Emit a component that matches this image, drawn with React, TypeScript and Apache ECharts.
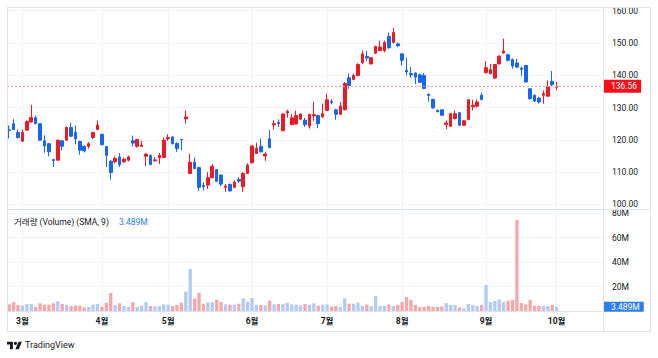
import React, { useEffect, useRef } from 'react';
import * as echarts from 'echarts';

// ---- data ----
const opens = [
  123.1, 125.0, 122.3, 119.6, 123.0, 125.5, 126.8, 125.0, 119.7, 118.8,
  113.9, 113.7, 119.7, 119.9, 123.8, 122.3, 119.5, 118.0, 118.0, 120.7,
  123.2, 121.7, 117.9, 113.4, 113.2, 114.7, 113.2, 113.7, 119.7, 118.0,
  118.0, 114.9, 115.2, 113.5, 114.4, 114.5, 120.3, 120.9, 118.9, 120.1,
  126.5, 109.6, 113.1, 111.4, 105.9, 106.0, 108.3, 110.8, 109.1, 105.3,
  106.2, 105.3, 107.8, 105.5, 109.6, 112.9, 115.8, 118.0, 115.0, 120.3,
  124.6, 125.4, 122.8, 128.3, 124.7, 124.9, 126.4, 126.1, 124.3, 127.4,
  127.5, 127.1, 129.1, 131.9, 129.3, 127.9, 129.3, 139.2, 138.7, 139.9,
  143.9, 145.8, 143.5, 146.8, 147.6, 147.6, 152.0, 150.1, 149.7, 146.6,
  141.5, 140.5, 140.7, 140.1, 139.9, 134.1, 132.5, 129.1, 129.3, 124.8,
  124.2, 126.6, 128.4, 124.5, 126.3, 130.2, 130.4, 133.8, 140.8, 140.5,
  139.1, 143.5, 146.9, 146.3, 144.9, 143.8, 142.2, 143.0, 135.8, 133.8,
  132.9, 133.8, 133.5, 138.1, 136.3,
];
const closes = [
  122.9, 123.2, 120.7, 122.3, 125.7, 126.9, 125.0, 119.9, 118.1, 116.3,
  113.6, 119.9, 118.0, 123.8, 121.1, 120.3, 116.8, 116.6, 118.8, 122.3,
  124.6, 118.5, 115.2, 109.9, 114.3, 112.3, 114.0, 114.7, 119.0, 120.1,
  118.4, 115.6, 112.3, 113.8, 115.2, 119.9, 120.7, 118.8, 117.3, 120.0,
  127.1, 113.1, 111.1, 105.3, 105.5, 108.3, 111.8, 107.2, 106.3, 105.7,
  104.2, 106.9, 107.2, 109.6, 112.2, 118.1, 117.4, 116.3, 115.6, 117.6,
  125.0, 125.0, 128.0, 128.8, 126.8, 127.5, 128.0, 124.7, 127.9, 127.8,
  125.0, 128.1, 132.4, 131.6, 127.9, 130.4, 137.4, 136.8, 139.9, 143.3,
  146.6, 145.3, 145.4, 148.9, 148.7, 150.1, 148.5, 153.2, 149.1, 144.6,
  141.0, 140.1, 139.4, 137.8, 135.9, 133.7, 129.9, 128.7, 127.6, 125.2,
  128.1, 128.1, 124.5, 125.9, 132.4, 130.7, 131.7, 132.5, 142.3, 141.7,
  143.3, 145.9, 147.5, 144.6, 142.8, 142.5, 141.8, 137.9, 132.7, 132.0,
  131.7, 134.3, 136.5, 137.1, 136.56,
];
const lows = [
  120.4, 123.0, 120.4, 119.3, 122.8, 125.4, 124.8, 119.8, 116.0, 114.9,
  111.6, 113.6, 116.8, 119.7, 120.9, 118.6, 115.4, 116.1, 117.3, 120.2,
  123.0, 118.3, 111.6, 107.7, 112.7, 111.6, 112.9, 113.3, 118.0, 117.6,
  117.8, 111.9, 112.2, 113.3, 112.5, 114.5, 119.7, 118.6, 116.3, 116.8,
  125.0, 109.4, 110.9, 104.2, 104.4, 104.8, 108.1, 106.9, 105.7, 103.9,
  104.0, 105.1, 106.7, 103.9, 109.4, 112.7, 115.6, 116.1, 113.5, 117.4,
  123.2, 124.0, 122.8, 126.9, 124.5, 124.8, 126.1, 124.0, 123.5, 125.9,
  123.6, 126.9, 128.9, 131.0, 126.2, 127.7, 129.1, 135.8, 138.4, 139.7,
  143.5, 144.3, 143.3, 146.6, 147.4, 147.1, 148.2, 149.9, 148.7, 143.0,
  139.9, 139.2, 137.2, 137.6, 135.7, 131.8, 129.6, 128.5, 127.4, 123.3,
  124.0, 126.3, 124.3, 124.3, 126.1, 129.1, 130.0, 132.2, 140.5, 140.2,
  138.9, 143.3, 146.6, 144.3, 142.0, 142.3, 139.8, 137.7, 132.5, 131.7,
  131.2, 131.2, 133.3, 136.3, 135.3,
];
const highs = [
  124.5, 126.4, 123.2, 123.2, 126.0, 130.8, 127.5, 125.1, 121.4, 119.0,
  114.1, 120.1, 119.9, 124.2, 125.3, 124.4, 119.7, 118.3, 119.3, 122.5,
  126.0, 121.9, 118.0, 113.7, 114.9, 115.8, 114.5, 115.1, 121.3, 120.3,
  119.7, 115.8, 115.4, 114.7, 116.0, 120.7, 121.7, 121.1, 119.2, 120.3,
  129.1, 115.6, 114.5, 111.7, 106.9, 110.0, 112.5, 111.0, 109.3, 106.3,
  106.5, 107.5, 108.4, 110.0, 112.7, 118.3, 119.1, 120.4, 116.3, 123.0,
  126.1, 126.3, 128.1, 129.3, 128.0, 129.1, 128.2, 126.8, 128.0, 131.8,
  127.7, 131.2, 134.3, 132.6, 129.6, 131.7, 137.9, 140.5, 140.5, 143.7,
  147.6, 147.6, 145.6, 149.1, 150.7, 150.7, 153.2, 154.6, 150.1, 146.8,
  145.4, 142.5, 140.8, 140.5, 140.7, 134.3, 132.7, 129.4, 129.5, 126.0,
  128.3, 129.1, 128.6, 126.1, 132.6, 132.4, 132.5, 134.6, 144.3, 143.5,
  143.5, 146.1, 151.3, 146.6, 145.1, 145.1, 142.7, 143.2, 136.0, 134.0,
  133.3, 135.3, 138.4, 141.3, 137.9,
];
// volume in millions
const volumes = [
  5.4, 7.3, 4.9, 4.4, 5.7, 5.7, 3.5, 6.3, 5.2, 5.2,
  6.3, 7.9, 5.7, 5.2, 4.1, 4.4, 4.4, 3.0, 3.5, 5.4,
  5.7, 3.5, 6.8, 14.7, 4.9, 6.3, 4.1, 3.5, 7.3, 3.3,
  4.4, 7.3, 4.1, 3.8, 4.1, 5.4, 5.2, 4.1, 4.9, 6.8,
  15.8, 34.3, 10.1, 15.0, 6.0, 7.1, 7.3, 9.2, 7.3, 5.4,
  5.2, 5.2, 6.0, 10.3, 7.6, 10.6, 4.9, 4.9, 4.6, 8.4,
  5.4, 5.7, 5.7, 6.8, 5.4, 5.2, 4.6, 5.7, 5.2, 6.3,
  4.4, 5.2, 5.4, 3.6, 4.1, 3.4, 10.3, 6.0, 6.0, 6.8,
  4.1, 5.4, 4.1, 12.2, 4.1, 4.1, 5.4, 4.1, 4.9, 7.3,
  11.4, 9.0, 4.9, 3.3, 3.3, 4.1, 3.5, 3.3, 3.8, 6.5,
  4.9, 4.9, 3.0, 2.2, 5.7, 4.9, 4.1, 4.9, 21.2, 7.3,
  8.2, 9.5, 7.3, 8.4, 9.0, 74.3, 6.5, 5.4, 9.0, 4.4,
  4.4, 4.1, 4.1, 4.9, 3.489,
];
const monthStartIdx = [3, 21, 36, 55, 72, 89, 108, 124];
const monthLabels = ['3월', '4월', '5월', '6월', '7월', '8월', '9월', '10월'];
const volumeLegendTitle = '거래량 (Volume) (SMA, 9)';
const TOTAL_SLOTS = 135; // trading days + empty right margin

// ---- styles ----
const FONT = "Roboto, 'Noto Sans CJK KR', 'Noto Sans', sans-serif";
const RED = '#eb1a23';
const BLUE = '#1766ee';
const LABEL_RED = '#f7101a';
const PRICE_LINE = '#f39ca1';
const VOL_DOWN = '#f7a7aa';
const VOL_UP = '#b1cbf6';
const GRID = '#f0f3fa';
const FRAME = '#e0e3eb';
const TEXT = '#131722';
const TV_PATH =
  'M14 22H7V11H0V4h14v18zM28 22h-8l7.5-18h8L28 22zM24 8a4 4 0 1 1-8 0a4 4 0 1 1 8 0z';

let registered = false;

export default function App() {
  const ref = useRef<HTMLDivElement>(null);

  useEffect(() => {
    if (!registered) {
      echarts.graphic.registerShape('tvlogo', echarts.graphic.extendPath(TV_PATH, {}) as any);
      registered = true;
    }
    const chart = echarts.init(ref.current as HTMLDivElement, undefined, { renderer: 'svg' });

    const cats = Array.from({ length: TOTAL_SLOTS }, (_, i) => String(i));
    const labelByIdx = new Map<number, string>(monthStartIdx.map((i, k) => [i, monthLabels[k]]));
    const candleData = opens.map((o, i) => [o, closes[i], lows[i], highs[i]]);
    const volData = volumes.map((v, i) => ({
      value: v,
      itemStyle: { color: closes[i] < opens[i] ? VOL_DOWN : VOL_UP },
    }));
    const lastClose = closes[closes.length - 1];
    const lastVol = volumes[volumes.length - 1];
    const lastVolText = `${lastVol.toFixed(3)}M`;

    const monthLines = (xi: number, yi: number) => ({
      type: 'line',
      xAxisIndex: xi,
      yAxisIndex: yi,
      data: [],
      silent: true,
      markLine: {
        silent: true,
        z: 1,
        symbol: ['none', 'none'],
        label: { show: false },
        lineStyle: { color: GRID, type: 'solid', width: 1 },
        emphasis: { disabled: true },
        data: monthStartIdx.map((i) => ({ xAxis: cats[i] })),
      },
    });

    const hLine = (x1: number, y1: number, x2: number, y2: number) => ({
      type: 'line',
      silent: true,
      z: 10,
      shape: { x1, y1, x2, y2 },
      style: { stroke: FRAME, lineWidth: 1 },
    });

    const option: any = {
      animation: false,
      backgroundColor: '#ffffff',
      textStyle: { fontFamily: FONT },
      grid: [
        { left: 7, top: 7, width: 596, height: 202, outerBoundsMode: 'none' },
        { left: 7, top: 209, width: 596, height: 102, outerBoundsMode: 'none' },
      ],
      xAxis: [
        {
          type: 'category', gridIndex: 0, data: cats, boundaryGap: true,
          axisLine: { show: false }, axisTick: { show: false },
          axisLabel: { show: false }, splitLine: { show: false },
        },
        {
          type: 'category', gridIndex: 1, data: cats, boundaryGap: true,
          axisLine: { show: false }, axisTick: { show: false }, splitLine: { show: false },
          axisLabel: {
            interval: (idx: number) => labelByIdx.has(idx),
            formatter: (_v: string, idx: number) => labelByIdx.get(idx) ?? '',
            color: TEXT, fontSize: 8.5, fontWeight: 'bold', margin: 6, fontFamily: FONT,
          },
        },
      ],
      yAxis: [
        {
          type: 'value', gridIndex: 0, position: 'right', min: 98.6, max: 161.1, splitNumber: 6,
          axisLine: { show: false }, axisTick: { show: false },
          axisLabel: {
            margin: 9, fontSize: 8.5, color: TEXT, fontFamily: FONT,
            formatter: (v: number) => (Math.abs(v - Math.round(v / 10) * 10) < 1e-6 ? v.toFixed(2) : ''),
          },
          splitLine: { show: true, lineStyle: { color: GRID, width: 1 } },
        },
        {
          type: 'value', gridIndex: 1, position: 'right', min: 0, max: 83.3, splitNumber: 4,
          axisLine: { show: false }, axisTick: { show: false },
          axisLabel: {
            margin: 9, fontSize: 8.5, color: TEXT, fontFamily: FONT,
            formatter: (v: number) => (v > 0 && Math.abs(v % 20) < 1e-6 ? `${v}M` : ''),
          },
          splitLine: { show: true, lineStyle: { color: GRID, width: 1 } },
        },
      ],
      series: [
        monthLines(0, 0),
        monthLines(1, 1),
        {
          type: 'candlestick',
          xAxisIndex: 0,
          yAxisIndex: 0,
          data: candleData,
          barWidth: '70%',
          itemStyle: { color: RED, color0: BLUE, borderColor: RED, borderColor0: BLUE, borderWidth: 1 },
        },
        {
          // last-price line + label
          type: 'line',
          xAxisIndex: 0,
          yAxisIndex: 0,
          data: [],
          silent: true,
          color: PRICE_LINE,
          markLine: {
            silent: true,
            z: 3,
            symbol: ['none', 'none'],
            data: [{ yAxis: lastClose }],
            lineStyle: { color: PRICE_LINE, type: [2, 2], width: 1 },
            emphasis: { disabled: true },
            label: {
              show: true, position: 'end', distance: 0, formatter: lastClose.toFixed(2),
              backgroundColor: LABEL_RED, color: '#ffffff', padding: [1, 4, 1, 8], lineHeight: 11,
              fontSize: 8.5, fontFamily: FONT,
            },
          },
        },
        {
          type: 'bar',
          xAxisIndex: 1,
          yAxisIndex: 1,
          data: volData,
          barWidth: '75%',
          markLine: {
            silent: true,
            z: 3,
            symbol: ['none', 'none'],
            data: [{ yAxis: lastVol }],
            lineStyle: { color: 'transparent', width: 0 },
            emphasis: { disabled: true },
            label: {
              show: true, position: 'end', distance: 0, formatter: lastVolText,
              backgroundColor: '#2f7cf0', color: '#ffffff', padding: [0, 4, 0, 8], lineHeight: 10,
              fontSize: 8.5, fontFamily: FONT,
            },
          },
        },
      ],
      graphic: [
        hLine(7, 7.5, 651, 7.5),
        hLine(7, 209.5, 651, 209.5),
        hLine(7, 311.5, 603, 311.5),
        hLine(7, 331.5, 651, 331.5),
        hLine(7.5, 7, 7.5, 332),
        hLine(603.5, 7, 603.5, 332),
        hLine(650.5, 7, 650.5, 332),
        {
          type: 'text', x: 14, y: 222, silent: true, z: 11,
          style: { text: volumeLegendTitle, fill: TEXT, font: `8.5px ${FONT}`, verticalAlign: 'middle' },
        },
        {
          type: 'text', x: 119, y: 222, silent: true, z: 11,
          style: { text: lastVolText, fill: '#2f7cf0', font: `8.5px ${FONT}`, verticalAlign: 'middle' },
        },
        {
          type: 'tvlogo', x: 7, y: 340, scaleX: 0.42, scaleY: 0.42, silent: true, z: 11,
          style: { fill: TEXT },
        },
        {
          type: 'text', x: 25, y: 345, silent: true, z: 11,
          style: { text: 'TradingView', fill: TEXT, font: `9px ${FONT}`, verticalAlign: 'middle' },
        },
      ],
    };

    chart.setOption(option);
    return () => chart.dispose();
  }, []);

  return (
    <div
      ref={ref}
      style={{ position: 'fixed', left: 0, top: 0, width: 658, height: 358, background: '#ffffff' }}
    />
  );
}
